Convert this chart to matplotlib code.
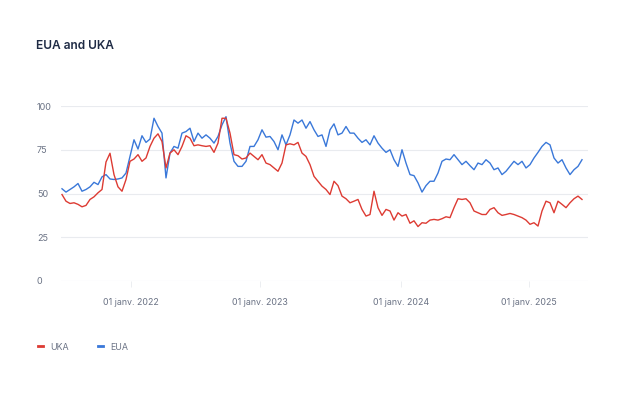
import matplotlib
matplotlib.use("Agg")
import matplotlib.pyplot as plt
from matplotlib.lines import Line2D

plt.rcParams['font.family'] = ['Inter', 'DejaVu Sans']

title = "EUA and UKA"
series_names = ["UKA", "EUA"]

# Ordinal (evenly spaced) observations, mid-2021 to mid-2025
uka = [49.4, 45.6, 44.3, 44.7, 43.8, 42.4, 43.2, 46.6, 48.1, 50.4, 52.3, 68.0, 73.0,
       60.8, 53.8, 51.3, 58.0, 68.4, 69.7, 72.2, 68.4, 70.3, 76.9, 81.6, 84.1, 79.7,
       64.6, 73.1, 75.0, 72.2, 76.9, 83.0, 81.6,
       77.3, 77.8, 77.3, 76.9, 77.3, 73.5, 78.8, 93.0, 93.0, 84.5, 72.2, 71.6, 69.7,
       70.3, 73.1, 71.2, 69.3, 72.2, 67.4, 66.5, 64.6, 62.7, 67.4, 77.8, 78.4, 77.8,
       79.2, 73.1, 71.2, 66.5, 59.8, 57.0, 54.2,
       52.3, 49.4, 57.0, 54.5, 48.5, 47.0, 44.7, 45.6, 46.6, 40.9, 37.1, 38.0, 51.3,
       41.9, 37.5, 40.9, 40.0, 34.8, 39.0, 37.1, 38.0, 33.0, 34.4, 31.1, 33.3, 33.0,
       34.8, 35.2, 34.8, 35.6, 36.7, 36.2, 41.9,
       47.0, 46.6, 47.0, 44.7, 40.0, 39.0, 38.0, 38.0, 40.9, 41.9, 39.0, 37.5, 38.0,
       38.6, 38.0, 37.1, 36.2, 34.8, 32.4, 33.3, 31.4, 40.0, 45.6, 44.7, 39.0, 45.6,
       43.8, 41.9, 44.7, 47.0, 48.5, 46.6]

eua = [52.7, 50.8, 52.3, 53.8, 55.7, 51.3, 52.3, 53.8, 56.4, 55.1, 59.5, 60.8, 58.3,
       58.0, 58.3, 58.9, 61.7, 71.2, 80.7, 75.4, 83.0, 79.2, 81.1, 93.0, 88.3, 84.5,
       58.9, 73.1, 76.9, 75.9, 84.5, 85.4, 87.3,
       79.7, 84.5, 81.6, 83.5, 81.6, 78.8, 82.6, 89.2, 93.9, 78.8, 68.4, 65.5, 65.5,
       68.4, 76.9, 76.9, 80.7, 86.4, 82.2, 82.6, 79.7, 75.0, 83.5, 77.8, 83.5, 92.0,
       90.2, 92.0, 87.3, 91.1, 86.4, 82.6, 83.5,
       76.9, 86.4, 89.8, 83.5, 84.5, 88.3, 84.5, 84.5, 81.6, 79.2, 80.7, 77.8, 83.0,
       78.8, 75.9, 73.5, 75.0, 69.3, 65.5, 75.0, 67.4, 60.8, 60.2, 56.1, 50.8, 54.5,
       57.0, 57.0, 61.7, 68.4, 69.7, 69.3, 72.2,
       69.3, 66.5, 68.4, 65.9, 63.6, 67.4, 66.5, 69.3, 67.4, 63.6, 64.6, 60.8, 62.7,
       65.5, 68.4, 66.5, 68.4, 64.6, 66.5, 70.3, 73.5, 76.9, 79.2, 77.8, 70.3, 67.4,
       69.3, 64.6, 60.8, 63.6, 65.5, 69.3]

# Observation index at which each year starts (ordinal axis)
year_tick_idx = [17.25, 49.5, 84.75, 116.75]
year_tick_labels = ["01 janv. 2022", "01 janv. 2023", "01 janv. 2024", "01 janv. 2025"]
y_ticks = [0, 25, 50, 75, 100]

RED = "#dd3b33"
BLUE = "#3a78d9"
GRID = "#e9ebef"
LABEL = "#6b7385"

W, H = 624, 393
fig = plt.figure(figsize=(W / 100, H / 100), dpi=100)
ax = fig.add_axes([61 / W, 1 - 281 / H, (588 - 61) / W, (281 - 106) / H])

x = list(range(len(uka)))
ax.plot(x, eua, color=BLUE, lw=1.0, zorder=3)
ax.plot(x, uka, color=RED, lw=1.0, zorder=4)

ax.set_xlim(-0.25, 131.5)
ax.set_ylim(0, 100)
ax.set_yticks(y_ticks)
ax.set_xticks(year_tick_idx)
ax.set_xticklabels(year_tick_labels)

for s in ax.spines.values():
    s.set_visible(False)
ax.grid(axis='y', color=GRID, lw=0.8, zorder=0)
ax.tick_params(axis='y', length=0, pad=17.3, labelsize=6.5, labelcolor=LABEL)
for lab in ax.get_yticklabels():
    lab.set_horizontalalignment('left')
ax.tick_params(axis='x', length=4.5, width=0.6, color=GRID, pad=8, labelsize=6.4,
               labelcolor=LABEL)

fig.text(36 / W, 1 - 46 / H, title, fontsize=8.6, fontweight='semibold',
         color="#1f2b45", va='center', ha='left')

handles = [Line2D([0], [0], color=RED, lw=2.0), Line2D([0], [0], color=BLUE, lw=2.0)]
fig.legend(handles, series_names, loc='center left', bbox_to_anchor=(30 / W, 1 - 347 / H),
           ncol=2, frameon=False, fontsize=6.4, handlelength=0.6, handletextpad=0.8,
           columnspacing=3.2, labelcolor=LABEL)

fig.savefig("out.png", dpi=100, facecolor="white")
